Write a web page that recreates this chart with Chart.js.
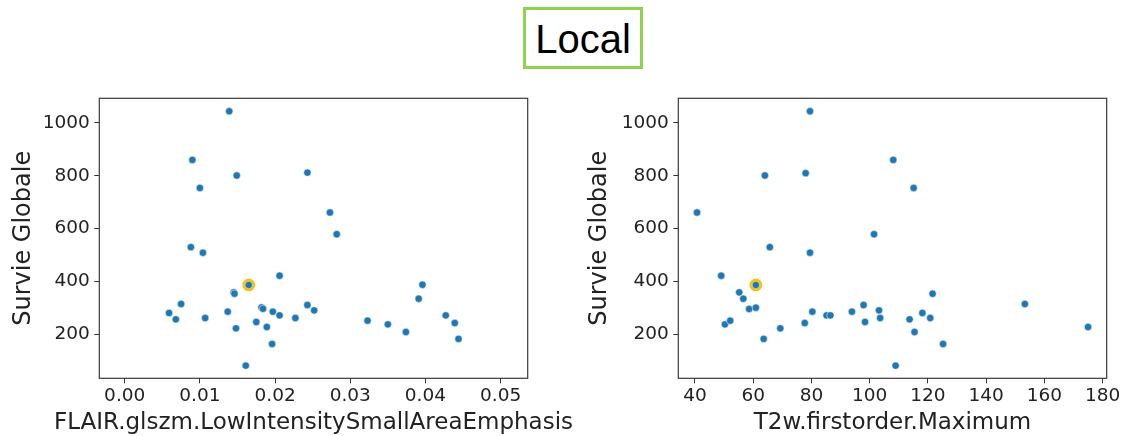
<!DOCTYPE html>
<html>
<head>
<meta charset="utf-8">
<script src="https://cdn.jsdelivr.net/npm/chart.js@4.4.1/dist/chart.umd.min.js"></script>
<style>
  html, body { margin: 0; padding: 0; background: #fff; }
  #wrap { position: relative; width: 1124px; height: 436px; overflow: hidden; }
  .title-box { position: absolute; left: 523px; top: 7px; width: 120px; height: 62px; box-sizing: border-box; border: 3px solid #92d050; }
  .title-box span { position: absolute; left: 0; right: 0; top: 8.8px; text-align: center; font: 40px/40px "Liberation Sans", Arial, sans-serif; color: #000; }
  canvas { position: absolute; top: 0; }
</style>
</head>
<body>
<div id="wrap">
  <div class="title-box"><span>Local</span></div>
  <canvas id="flairChart" width="585" height="436" style="left:0"></canvas>
  <canvas id="t2wChart" width="564" height="436" style="left:560px"></canvas>
</div>
<script>
// ---- values ----
const survieTicks = [200, 400, 600, 800, 1000];
const flairTicks = [0, 0.01, 0.02, 0.03, 0.04, 0.05];
const t2wTicks = [40, 60, 80, 100, 120, 140, 160, 180];

const flairX = [0.0139, 0.0090, 0.0149, 0.0243, 0.0100, 0.0273, 0.0282, 0.0088, 0.0104, 0.0206,
  0.0165, 0.0396, 0.0145, 0.0146, 0.0391, 0.0075, 0.0243, 0.0252, 0.0182, 0.0184,
  0.0059, 0.0137, 0.0197, 0.0206, 0.0427, 0.0068, 0.0107, 0.0227, 0.0323, 0.0175,
  0.0350, 0.0439, 0.0189, 0.0148, 0.0374, 0.0444, 0.0196, 0.0161];
const flairSurvie = [1044, 860, 801, 812, 754, 661, 579, 530, 509, 422,
  387, 388, 359, 354, 335, 315, 311, 291, 302, 297,
  281, 286, 286, 272, 272, 257, 262, 262, 252, 247,
  238, 243, 228, 223, 209, 183, 164, 82];
const flairHighlight = 10;

const t2wX = [79.5, 64.0, 78.0, 108.1, 40.7, 101.5, 65.7, 79.5, 49.0, 60.9,
  55.2, 56.6, 58.6, 60.9, 50.3, 52.1, 63.6, 69.3, 77.7, 80.3,
  85.2, 86.5, 93.9, 97.9, 98.4, 103.2, 103.6, 108.9, 115.1, 121.6,
  113.7, 118.1, 120.8, 115.4, 125.2, 153.3, 175.0];
const t2wSurvie = [1044, 801, 810, 860, 661, 579, 530, 509, 422, 387,
  359, 335, 296, 301, 238, 252, 183, 223, 243, 286,
  272, 272, 286, 311, 247, 291, 262, 82, 754, 354,
  257, 281, 262, 209, 164, 315, 228];
const t2wHighlight = 9;

const TXT = '#222';
const FONT = '"DejaVu Sans", sans-serif';

// box round the plot area + horizontal axis label
const frame = {
  id: 'frame',
  afterDraw(chart, args, opts) {
    const { ctx, chartArea: a } = chart;
    ctx.save();
    ctx.strokeStyle = '#3a3a3a';
    ctx.lineWidth = 1.2;
    ctx.strokeRect(a.left, a.top, a.right - a.left, a.bottom - a.top);
    ctx.fillStyle = TXT;
    ctx.font = '23px ' + FONT;
    ctx.textAlign = 'center';
    ctx.textBaseline = 'alphabetic';
    ctx.fillText(opts.xLabel, (a.left + a.right) / 2, 428.8);
    ctx.restore();
  }
};

function scatterChart(id, xs, ys, hi, cfg) {
  const pts = xs.map((x, i) => ({ x, y: ys[i] }));
  return new Chart(document.getElementById(id), {
    type: 'scatter',
    data: {
      datasets: [
        { data: pts, order: 0, pointRadius: 3.7, pointHoverRadius: 3.7,
          pointBackgroundColor: '#1f77b4', pointBorderColor: 'rgba(255,255,255,0.85)', pointBorderWidth: 0.6 },
        { data: [pts[hi]], order: 1, pointRadius: 6.4, pointHoverRadius: 6.4,
          pointBackgroundColor: '#ffc000', pointBorderWidth: 0 }
      ]
    },
    options: {
      responsive: false,
      animation: false,
      devicePixelRatio: 1,
      layout: { padding: { left: 0, top: 98.3, right: cfg.padRight, bottom: 0 } },
      plugins: { legend: { display: false }, tooltip: { enabled: false }, frame: { xLabel: cfg.xLabel } },
      scales: {
        x: {
          type: 'linear', min: cfg.xMin, max: cfg.xMax,
          afterFit: s => { s.height = 57.7; },
          afterBuildTicks: s => { s.ticks = cfg.xTicks.map(v => ({ value: v })); },
          ticks: { color: TXT, font: { family: FONT, size: 18.5 }, padding: 2, maxRotation: 0, autoSkip: false, callback: cfg.xFmt },
          grid: { drawOnChartArea: false, tickLength: 5, color: '#333', lineWidth: 1 },
          border: { display: false }
        },
        y: {
          type: 'linear', min: 34, max: 1093,
          afterFit: s => { s.width = cfg.yWidth; },
          afterBuildTicks: s => { s.ticks = survieTicks.map(v => ({ value: v })); },
          ticks: { color: TXT, font: { family: FONT, size: 18.5 }, padding: 4.5, autoSkip: false, callback: v => String(v) },
          grid: { drawOnChartArea: false, tickLength: 5, color: '#333', lineWidth: 1 },
          border: { display: false },
          title: { display: true, text: 'Survie Globale', color: TXT, font: { family: FONT, size: 24 }, padding: { top: cfg.yTitlePad, bottom: 0 } }
        }
      }
    },
    plugins: [frame]
  });
}

scatterChart('flairChart', flairX, flairSurvie, flairHighlight, {
  xMin: -0.00338, xMax: 0.0536, xTicks: flairTicks, xFmt: v => v.toFixed(2),
  xLabel: 'FLAIR.glszm.LowIntensitySmallAreaEmphasis',
  yWidth: 99.3, padRight: 585 - 527.7, yTitlePad: 9.6
});

scatterChart('t2wChart', t2wX, t2wSurvie, t2wHighlight, {
  xMin: 34.27, xMax: 181.4, xTicks: t2wTicks, xFmt: v => String(v),
  xLabel: 'T2w.firstorder.Maximum',
  yWidth: 118.3, padRight: 564 - 546.7, yTitlePad: 25.6
});
</script>
</body>
</html>
